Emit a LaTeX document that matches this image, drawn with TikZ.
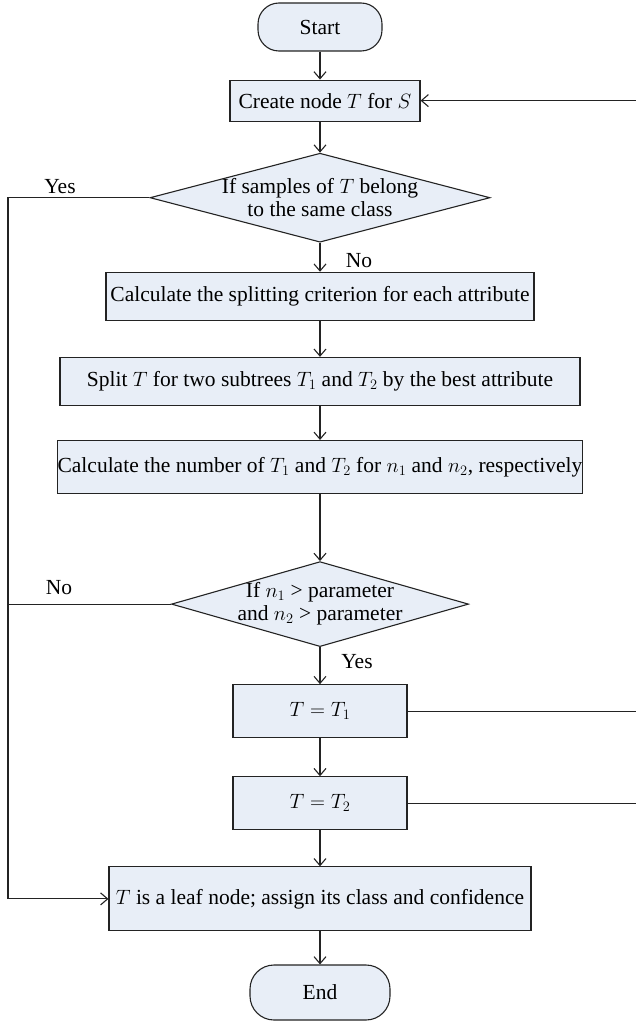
\documentclass[tikz,border=0pt]{standalone}
\usepackage{fontspec}
\setmainfont{Liberation Serif}
\usepackage{tikz}
\usetikzlibrary{positioning,arrows.meta,shapes.geometric,calc}

\definecolor{boxfill}{RGB}{232,238,247}
\definecolor{edgegray}{RGB}{35,35,35}

\begin{document}
\begin{tikzpicture}[
  x=1pt, y=1pt,
  font=\fontsize{21.5}{23}\selectfont,
  term/.style={draw=edgegray, fill=boxfill, line width=1.1pt, rounded corners=21pt, minimum width=124pt, minimum height=48pt},
  proc/.style={draw=edgegray, fill=boxfill, line width=1.1pt, align=center, inner xsep=2pt},
  decide/.style={draw=edgegray, fill=boxfill, line width=1.1pt, diamond, aspect=3.6, inner sep=-3pt, align=center},
  arrow/.style={-{Straight Barb[length=7pt,width=12pt]}, line width=1.1pt, draw=edgegray},
  link/.style={line width=1.1pt, draw=edgegray},
  lbl/.style={inner sep=0pt},
  node distance=30pt
]
\useasboundingbox (0,0) rectangle (635,-1022);

\node[term] (start) at (320,-27) {Start};
\node[proc, minimum width=190pt, minimum height=41pt, below=28pt of start, xshift=5pt] (create) {Create node $T$ for $S$};
\node[decide, minimum width=340pt, minimum height=89pt, below=31pt of create, xshift=-5pt] (same) {If samples of $T$ belong\\to the same class};
\node[proc, minimum width=428pt, minimum height=48pt, below=29pt of same] (crit) {Calculate the splitting criterion for each attribute};
\node[proc, minimum width=520pt, minimum height=48pt, below=36pt of crit] (split) {Split $T$ for two subtrees $T_1$ and $T_2$ by the best attribute};
\node[proc, minimum width=520pt, minimum height=53pt, inner xsep=0pt, below=34pt of split] (count) {Calculate the number of $T_1$ and $T_2$ for $n_1$ and $n_2$, respectively};
\node[decide, minimum width=297pt, minimum height=85pt, below=67pt of count] (param) {If $n_1$ > parameter\\and $n_2$ > parameter};
\node[proc, minimum width=174pt, minimum height=53pt, below=37pt of param] (left) {$T = T_1$};
\node[proc, minimum width=174pt, minimum height=53pt, below=38pt of left] (right) {$T = T_2$};
\node[proc, minimum width=422pt, minimum height=64pt, below=36pt of right] (leaf) {$T$ is a leaf node; assign its class and confidence};
\node[term, minimum width=140pt, minimum height=55pt, rounded corners=24pt, below=33pt of leaf] (stop) {End};

% branch labels
\node[lbl] (yesa) at (60,-187) {Yes};
\node[lbl] (noa) at (359,-261) {No};
\node[lbl] (nob) at (59,-588) {No};
\node[lbl] (yesb) at (357,-662) {Yes};

% rails for the loops
\coordinate (leftrail) at (8,0);
\coordinate (rightrail) at (637,0);

\draw[arrow] (start) -- (start |- create.north);
\draw[arrow] (same.north |- create.south) -- (same.north);
\foreach \a/\b in {same/crit,crit/split,split/count,count/param,param/left,left/right,right/leaf,leaf/stop}
  \draw[arrow] (\a) -- (\b);

\draw[arrow] (same.west) -- (same.west -| leftrail) |- (leaf.west);
\draw[link] (param.west) -- (param.west -| leftrail);
\draw[arrow] (left.east) -- (left.east -| rightrail) |- (create.east);
\draw[link] (right.east) -- (right.east -| rightrail);
\end{tikzpicture}
\end{document}
